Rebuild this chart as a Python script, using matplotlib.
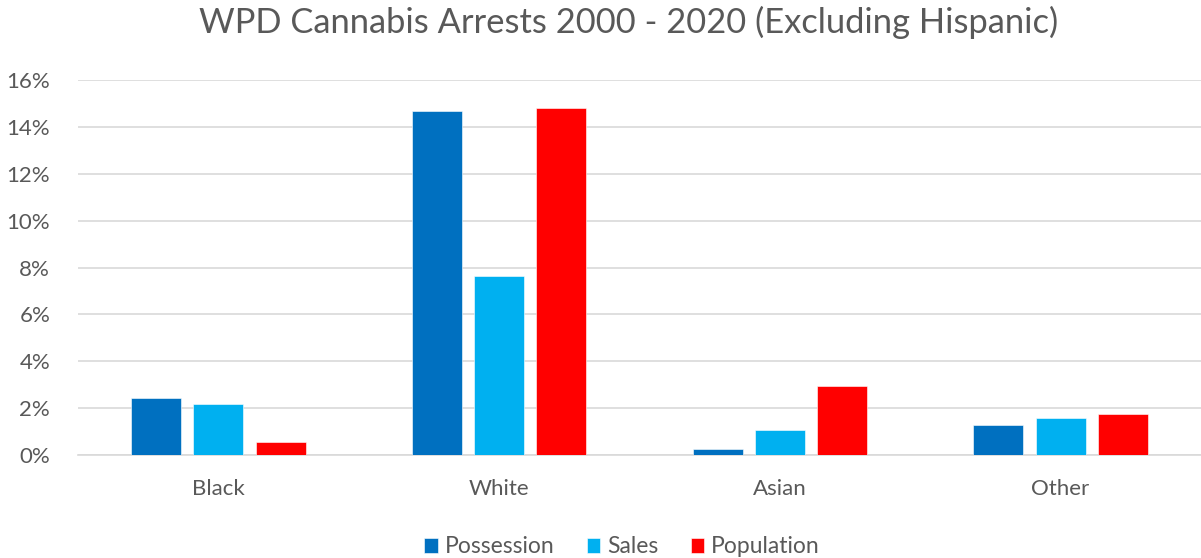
import matplotlib
matplotlib.use("Agg")
import matplotlib.pyplot as plt
import numpy as np
from matplotlib.ticker import PercentFormatter

plt.rcParams["font.family"] = ["Lato", "DejaVu Sans"]

categories = ["Black", "White", "Asian", "Other"]
series_names = ["Possession", "Sales", "Population"]
possession = [0.0242, 0.1469, 0.0025, 0.0128]
sales = [0.0218, 0.0762, 0.0106, 0.0157]
population = [0.0055, 0.1480, 0.0294, 0.0174]
colors = ["#0070C0", "#00B0F0", "#FF0000"]

text_grey = "#595959"

fig = plt.figure(figsize=(12.01, 5.58), dpi=100)
ax = fig.add_axes([78 / 1201, 1 - 455 / 558, (1201 - 78) / 1201, (455 - 80) / 558])

x = np.arange(len(categories))
width = 0.178
step = 0.222
for i, (name, vals, col) in enumerate(zip(series_names, [possession, sales, population], colors)):
    ax.bar(x + (i - 1) * step, vals, width, color=col, label=name, zorder=3,
           edgecolor="white", linewidth=0.4)

ax.set_xlim(-0.5, len(categories) - 0.5)
ax.set_ylim(0, 0.16)
ax.set_yticks(np.arange(0, 0.161, 0.02))
ax.yaxis.set_major_formatter(PercentFormatter(1.0, decimals=0))
ax.set_xticks(x)
ax.set_xticklabels(categories)
ax.tick_params(axis="both", length=0, labelsize=16, colors=text_grey)
ax.tick_params(axis="x", pad=17)
ax.tick_params(axis="y", pad=20)
ax.grid(axis="y", color="#d9d9d9", linewidth=1.2, zorder=0)
for side in ["top", "right", "left"]:
    ax.spines[side].set_visible(False)
ax.spines["bottom"].set_color("#d9d9d9")
ax.spines["bottom"].set_linewidth(1.2)

fig.suptitle("WPD Cannabis Arrests 2000 - 2020 (Excluding Hispanic)",
             fontsize=24.8, color=text_grey, x=0.523, y=0.99)

fig.legend(loc="lower center", bbox_to_anchor=(0.518, -0.036), ncol=3, frameon=False,
           fontsize=16.5, labelcolor=text_grey, handlelength=0.6, handleheight=0.6,
           handletextpad=0.3, columnspacing=1.4)

fig.savefig("out.png", dpi=100)
